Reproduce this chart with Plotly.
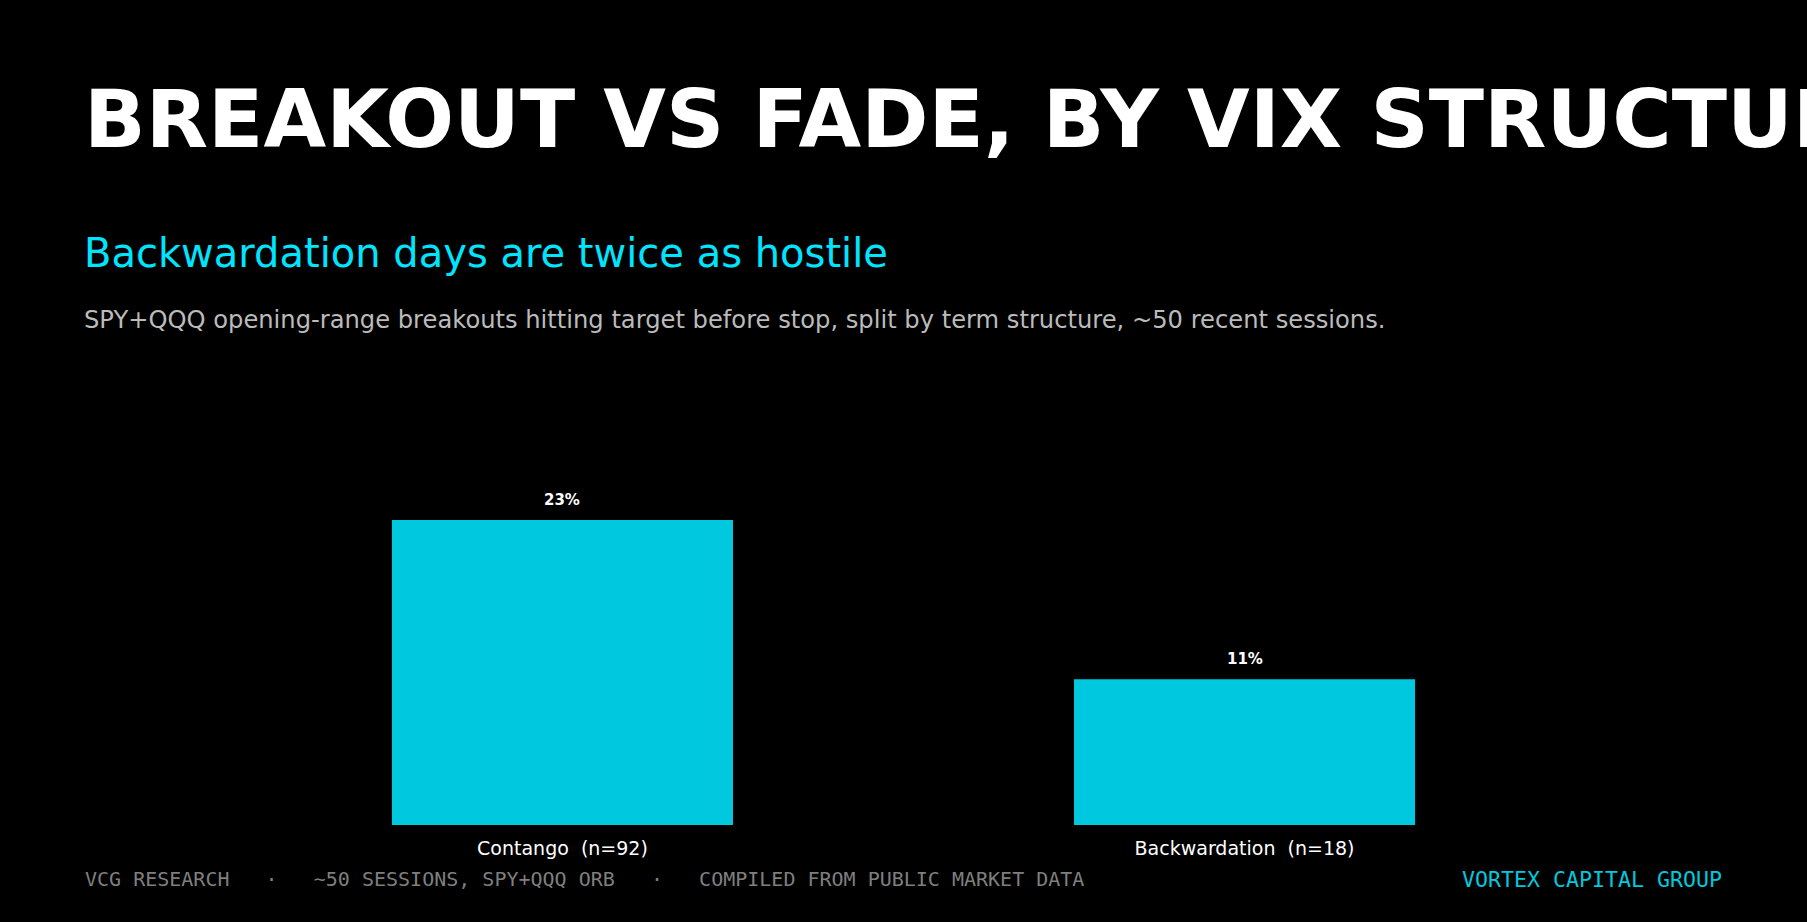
import plotly.graph_objects as go

W, H = 1807, 922

categories = ["Contango", "Backwardation"]
sample_sizes = [92, 18]
hit_rate_pct = [23, 11]

title_text = "BREAKOUT VS FADE, BY VIX STRUCTURE"
subtitle_text = "Backwardation days are twice as hostile"
desc_text = "SPY+QQQ opening-range breakouts hitting target before stop, split by term structure, ~50 recent sessions."
footer_left = "VCG RESEARCH   ·   ~50 SESSIONS, SPY+QQQ ORB   ·   COMPILED FROM PUBLIC MARKET DATA"
footer_right = "VORTEX CAPITAL GROUP"

NB = "\u00a0"
def keep_spaces(s):
    return s.replace("  ", " " + NB).replace(NB + " ", NB + NB)

tick_labels = [keep_spaces(f"{c}  (n={n})") for c, n in zip(categories, sample_sizes)]

BAR = "#00C8DF"
CYAN = "#00E5FF"
FONT = "DejaVu Sans"
MONO = "DejaVu Sans Mono"

def px(x):
    return x / W

def py(y):
    return 1 - y / H

plot_left, plot_right = 85, 1722
plot_bottom, plot_top = 825, 400
units_per_px = 23 / 305.0
ymax = (plot_bottom - plot_top) * units_per_px

fig = go.Figure(
    go.Bar(
        x=tick_labels,
        y=hit_rate_pct,
        marker=dict(color=BAR, line=dict(width=0)),
        hoverinfo="skip",
    )
)

annotations = []
for lab, v in zip(tick_labels, hit_rate_pct):
    annotations.append(dict(
        x=lab, y=v, xref="x", yref="y", text=f"<b>{v}%</b>", showarrow=False,
        yanchor="bottom", yshift=9,
        font=dict(family=FONT, size=15, color="#FFFFFF"),
    ))

annotations += [
    dict(x=px(82), y=py(119), xref="paper", yref="paper", xanchor="left", yanchor="middle",
         text=f"<b>{title_text}</b>", showarrow=False,
         font=dict(family=FONT, size=81, color="#FFFFFF")),
    dict(x=px(82), y=py(253), xref="paper", yref="paper", xanchor="left", yanchor="middle",
         text=subtitle_text, showarrow=False,
         font=dict(family=FONT, size=40, color=CYAN)),
    dict(x=px(82), y=py(320), xref="paper", yref="paper", xanchor="left", yanchor="middle",
         text=desc_text, showarrow=False,
         font=dict(family=FONT, size=24.2, color="#BBBBBB")),
    dict(x=px(83), y=py(879), xref="paper", yref="paper", xanchor="left", yanchor="middle",
         text=keep_spaces(footer_left), showarrow=False,
         font=dict(family=MONO, size=20, color="#7F7F7F")),
    dict(x=px(1724), y=py(879), xref="paper", yref="paper", xanchor="right", yanchor="middle",
         text=footer_right, showarrow=False,
         font=dict(family=MONO, size=21.6, color=BAR)),
]

fig.update_layout(
    width=W, height=H,
    paper_bgcolor="#000000", plot_bgcolor="#000000",
    margin=dict(l=0, r=0, t=0, b=0),
    bargap=0.5,
    showlegend=False,
    annotations=annotations,
    xaxis=dict(
        domain=[px(plot_left), px(plot_right)],
        range=[-0.7, 1.7],
        showgrid=False, zeroline=False, showline=False, ticks="",
        tickfont=dict(family=FONT, size=19, color="#FFFFFF"),
        ticklabelstandoff=10,
        fixedrange=True,
    ),
    yaxis=dict(
        domain=[py(plot_bottom), py(plot_top)],
        range=[0, ymax],
        showgrid=False, zeroline=False, showline=False, showticklabels=False, ticks="",
        fixedrange=True,
    ),
)

fig.write_html(
    "out.html",
    config={"displayModeBar": False},
    post_script="document.body.style.margin='0';document.body.style.overflow='hidden';document.body.style.background='#000';",
)
